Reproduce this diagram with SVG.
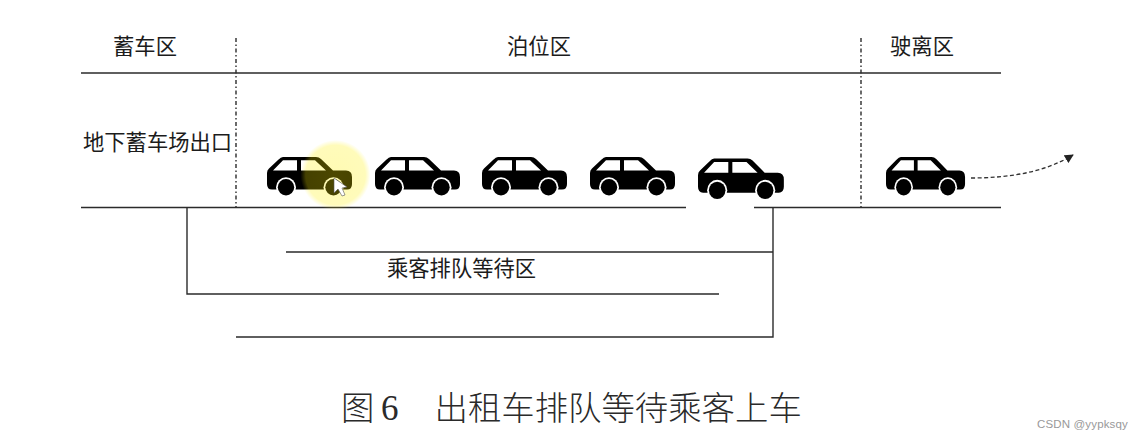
<svg xmlns="http://www.w3.org/2000/svg" xmlns:xlink="http://www.w3.org/1999/xlink" width="1144" height="441" viewBox="0 0 1144 441">
<style>
.ln{fill:none;stroke:#2b2b2b;stroke-width:1.4}
.dd{fill:none;stroke:#2b2b2b;stroke-width:1.4;stroke-dasharray:4 2.500 1.500 2.500}
.t{font-family:"Noto Sans CJK SC","Liberation Sans",sans-serif;font-size:21.3px;fill:#1c1c1c;font-weight:400}
.cap{font-family:"Noto Sans CJK SC",sans-serif;font-size:33.400px;fill:#2a2a2a;font-weight:300}
.cap6{font-family:"Liberation Serif",serif;font-size:35px;fill:#2a2a2a}
.wm{font-family:"Liberation Sans",sans-serif;font-size:11.5px;fill:#999;letter-spacing:.15px}
</style>
<defs>
<g id="car">
<path fill="#000" d="M16 0H49Q52 0 54 2L66 13.500H79Q85 13.500 85 20V27Q85 32.500 80 32.500H5Q0 32.500 0 27V16Q0 13 2 11.500L11 3Q14 0 16 0Z"/>
<path fill="#fff" d="M6 13.500L16 3.300H30V13.500ZM34 3.300H48L59 13.500H34Z"/>
<circle cx="19" cy="30.300" r="10" fill="#fff"/><circle cx="66.500" cy="30.300" r="10" fill="#fff"/>
<circle cx="19" cy="30.300" r="8.200" fill="#000"/><circle cx="66.500" cy="30.300" r="8.200" fill="#000"/>
</g>
<radialGradient id="glow"><stop offset="0" stop-color="#fff000" stop-opacity=".3"/><stop offset=".85" stop-color="#fff000" stop-opacity=".27"/><stop offset="1" stop-color="#fff000" stop-opacity="0"/></radialGradient>
<marker id="arr" viewBox="0 0 10 10" refX="9" refY="5" markerWidth="9" markerHeight="9" orient="auto" markerUnits="userSpaceOnUse"><path d="M0 0L10 5L0 10Z" fill="#222"/></marker>
</defs>
<rect width="1144" height="441" fill="#fff"/>
<g id="connectors">
<path class="ln" d="M81 73H1001M81 207.500H686M754 207.500H1001"/>
<path class="dd" d="M236 38V207M861 38V207"/>
<path class="ln" d="M187 207.500V294H719M286 252H773M773 207.500V337H236"/>
<path fill="none" stroke="#333" stroke-width="1.300" stroke-dasharray="4 2.500" marker-end="url(#arr)" d="M971 178C1010 178 1045 172 1073 155"/>
</g>
<g id="car1"><use xlink:href="#car" href="#car" x="267" y="157"/></g>
<g id="car2"><use xlink:href="#car" href="#car" x="375" y="157"/></g>
<g id="car3"><use xlink:href="#car" href="#car" x="482" y="157"/></g>
<g id="car4"><use xlink:href="#car" href="#car" x="590" y="157"/></g>
<g id="car5"><use xlink:href="#car" href="#car" transform="translate(698 158.500) scale(1.01 1.05)"/></g>
<g id="car6"><use xlink:href="#car" href="#car" transform="translate(886 157) scale(.93 1)"/></g>
<g id="highlight"><circle cx="335.500" cy="175" r="35" fill="url(#glow)"/>
<path d="M334 178L334 193L338 189L342 196L345 195L342 188L347 187Z" fill="#fff" stroke="#555" stroke-width=".6"/></g>
<g id="zone-store"><text class="t" x="145" y="54" text-anchor="middle">蓄车区</text></g>
<g id="zone-berth"><text class="t" x="539" y="54" text-anchor="middle">泊位区</text></g>
<g id="zone-leave"><text class="t" x="922" y="54" text-anchor="middle">驶离区</text></g>
<g id="exit"><text class="t" x="83" y="150">地下蓄车场出口</text></g>
<g id="queue"><text class="t" x="387" y="276">乘客排队等待区</text></g>
<g id="caption"><text class="cap" x="341" y="420">图</text><text class="cap6" x="381" y="420">6</text><text class="cap" x="434.500" y="420">出租车排队等待乘客上车</text></g>
<g id="watermark"><text class="wm" x="1037" y="428">CSDN @yypksqy</text></g>
</svg>
